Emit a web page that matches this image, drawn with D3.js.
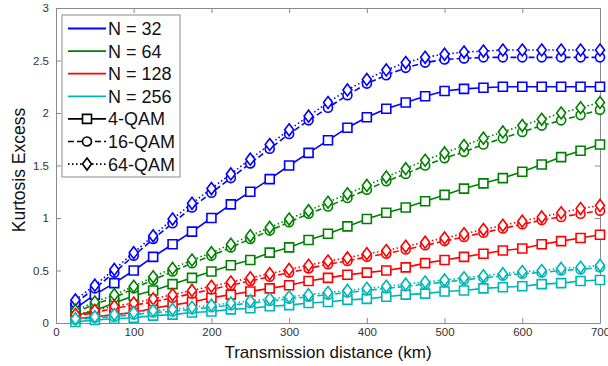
<!DOCTYPE html>
<html>
<head>
<meta charset="utf-8">
<script src="https://cdn.jsdelivr.net/npm/d3@7/dist/d3.min.js"></script>
<style>
  body { margin: 0; background: #fff; }
  svg { display: block; font-family: "Liberation Sans", Arial, sans-serif; }
</style>
</head>
<body>
<div id="chart"></div>
<script>
// transmission distance (km)
var distances = [25, 50, 75, 100, 125, 150, 175, 200, 225, 250, 275, 300, 325, 350,
                 375, 400, 425, 450, 475, 500, 525, 550, 575, 600, 625, 650, 675, 700];

var n32qam4  = [0.14,0.27,0.38,0.5,0.63,0.75,0.87,1.0,1.13,1.25,1.37,1.5,1.62,1.74,1.86,1.96,2.04,2.1,2.16,2.21,2.23,2.24,2.25,2.25,2.25,2.25,2.25,2.25];
var n32qam16 = [0.19,0.33,0.48,0.64,0.8,0.95,1.1,1.24,1.38,1.52,1.66,1.8,1.93,2.05,2.17,2.28,2.36,2.43,2.48,2.51,2.52,2.53,2.53,2.53,2.53,2.53,2.53,2.53];
var n32qam64 = [0.22,0.36,0.51,0.67,0.83,0.99,1.14,1.28,1.42,1.56,1.7,1.84,1.97,2.1,2.22,2.32,2.41,2.48,2.53,2.56,2.58,2.59,2.6,2.6,2.6,2.6,2.6,2.6];

var n64qam4  = [0.07,0.12,0.19,0.26,0.31,0.37,0.43,0.49,0.55,0.6,0.67,0.72,0.79,0.85,0.92,0.99,1.05,1.1,1.16,1.22,1.28,1.33,1.38,1.44,1.51,1.58,1.64,1.7];
var n64qam16 = [0.1,0.18,0.24,0.33,0.41,0.49,0.57,0.64,0.72,0.8,0.88,0.96,1.04,1.11,1.19,1.27,1.35,1.42,1.5,1.57,1.63,1.7,1.76,1.82,1.88,1.93,1.98,2.03];
var n64qam64 = [0.12,0.2,0.27,0.35,0.44,0.52,0.6,0.67,0.75,0.83,0.91,0.99,1.07,1.15,1.23,1.31,1.39,1.47,1.55,1.62,1.69,1.76,1.82,1.88,1.94,2.0,2.05,2.1];

var n128qam4  = [0.04,0.06,0.08,0.1,0.14,0.17,0.2,0.24,0.27,0.3,0.33,0.36,0.4,0.43,0.46,0.48,0.5,0.53,0.57,0.6,0.63,0.66,0.69,0.71,0.75,0.78,0.81,0.84];
var n128qam16 = [0.06,0.1,0.14,0.17,0.2,0.24,0.28,0.32,0.36,0.4,0.44,0.48,0.52,0.56,0.59,0.63,0.66,0.7,0.74,0.78,0.82,0.86,0.9,0.94,0.98,1.01,1.04,1.07];
var n128qam64 = [0.08,0.12,0.16,0.19,0.23,0.27,0.31,0.35,0.39,0.43,0.47,0.51,0.55,0.59,0.62,0.66,0.69,0.73,0.77,0.81,0.85,0.89,0.93,0.97,1.01,1.05,1.09,1.12];

var n256qam4  = [0.01,0.03,0.04,0.05,0.07,0.08,0.1,0.11,0.13,0.14,0.16,0.17,0.19,0.2,0.22,0.23,0.25,0.27,0.28,0.3,0.31,0.33,0.34,0.35,0.37,0.38,0.4,0.41];
var n256qam16 = [0.03,0.05,0.06,0.08,0.1,0.11,0.13,0.15,0.17,0.19,0.21,0.23,0.25,0.27,0.29,0.31,0.33,0.35,0.37,0.39,0.41,0.43,0.45,0.47,0.48,0.5,0.51,0.53];
var n256qam64 = [0.04,0.06,0.08,0.1,0.12,0.13,0.15,0.17,0.19,0.21,0.23,0.25,0.27,0.29,0.31,0.33,0.35,0.37,0.39,0.41,0.43,0.45,0.47,0.49,0.5,0.52,0.53,0.55];

var nLabels = ["N = 32", "N = 64", "N = 128", "N = 256"];
var qamLabels = ["4-QAM", "16-QAM", "64-QAM"];
var xTicks = [0, 100, 200, 300, 400, 500, 600, 700];
var yTicks = [0, 0.5, 1, 1.5, 2, 2.5, 3];

var W = 608, H = 366,
    margin = {left: 56, right: 8, top: 8, bottom: 43},
    iw = W - margin.left - margin.right,
    ih = H - margin.top - margin.bottom;

var colors = ["#0000ff", "#008000", "#ff0000", "#00b5b5"];
var dashes = [null, "6,3", "1.5,2.5"];
var shapes = ["square", "circle", "diamond"];

var seriesByN = [
    [n32qam4, n32qam16, n32qam64],
    [n64qam4, n64qam16, n64qam64],
    [n128qam4, n128qam16, n128qam64],
    [n256qam4, n256qam16, n256qam64]
];

var svg = d3.select("#chart").append("svg")
    .attr("width", W)
    .attr("height", H);

var x = d3.scaleLinear().domain([0, 700]).range([0, iw]);
var y = d3.scaleLinear().domain([0, 3]).range([ih, 0]);

var g = svg.append("g").attr("transform", "translate(" + margin.left + "," + margin.top + ")");

// axes, ticks pointing inwards like matlab
var tickFmt = function (d) { return d; };
g.append("g").attr("class", "ax")
    .attr("transform", "translate(0," + ih + ")")
    .call(d3.axisBottom(x).tickValues(xTicks).tickFormat(tickFmt).tickSizeInner(-5).tickSizeOuter(0).tickPadding(5));
g.append("g").attr("class", "ax")
    .call(d3.axisLeft(y).tickValues(yTicks).tickFormat(tickFmt).tickSizeInner(-5).tickSizeOuter(0).tickPadding(7));
g.append("g").attr("class", "ax")
    .call(d3.axisTop(x).tickValues(xTicks).tickFormat("").tickSizeInner(-5).tickSizeOuter(0));
g.append("g").attr("class", "ax")
    .attr("transform", "translate(" + iw + ",0)")
    .call(d3.axisRight(y).tickValues(yTicks).tickFormat("").tickSizeInner(-5).tickSizeOuter(0));

g.selectAll(".ax path, .ax line").attr("stroke", "#8a8a8a").attr("stroke-width", 1);
g.selectAll(".ax text").attr("fill", "#333").attr("font-size", 11.5);

var symbolPath = function (shape, cx, cy) {
    if (shape === "square") {
        return "M" + (cx - 4.5) + "," + (cy - 4.5) + "h9v9h-9Z";
    } else if (shape === "circle") {
        return "M" + (cx - 4.5) + "," + cy + "a4.5,4.5 0 1,0 9,0a4.5,4.5 0 1,0 -9,0Z";
    } else {
        return "M" + cx + "," + (cy - 6) + "L" + (cx + 4.5) + "," + cy + "L" + cx + "," + (cy + 6) + "L" + (cx - 4.5) + "," + cy + "Z";
    }
};

var line = d3.line()
    .x(function (d, i) { return x(distances[i]); })
    .y(function (d) { return y(d); });

seriesByN.forEach(function (group, ni) {
    group.forEach(function (vals, qi) {
        var s = g.append("g");
        s.append("path")
            .attr("d", line(vals))
            .attr("fill", "none")
            .attr("stroke", colors[ni])
            .attr("stroke-width", 1.6)
            .attr("stroke-dasharray", dashes[qi]);
        s.selectAll("path.mk")
            .data(vals)
            .enter()
            .append("path")
            .attr("class", "mk")
            .attr("d", function (d, i) { return symbolPath(shapes[qi], x(distances[i]), y(d)); })
            .attr("fill", "#fff")
            .attr("stroke", colors[ni])
            .attr("stroke-width", 1.6);
    });
});

// legend
var lg = svg.append("g").attr("transform", "translate(62,15)");
lg.append("rect")
    .attr("width", 118).attr("height", 162)
    .attr("fill", "#fff").attr("stroke", "#8a8a8a");

var rowY = function (i) { return 13.5 + i * 22.6; };

nLabels.forEach(function (lab, i) {
    lg.append("line")
        .attr("x1", 6).attr("x2", 44)
        .attr("y1", rowY(i)).attr("y2", rowY(i))
        .attr("stroke", colors[i]).attr("stroke-width", 1.8);
    lg.append("text")
        .attr("x", 46).attr("y", rowY(i) + 6.5)
        .attr("font-size", 18).attr("fill", "#111")
        .text(lab);
});

qamLabels.forEach(function (lab, j) {
    var yy = rowY(j + 4);
    lg.append("line")
        .attr("x1", 6).attr("x2", 44)
        .attr("y1", yy).attr("y2", yy)
        .attr("stroke", "#000").attr("stroke-width", 1.6)
        .attr("stroke-dasharray", dashes[j]);
    lg.append("path")
        .attr("d", symbolPath(shapes[j], 25, yy))
        .attr("fill", "#fff").attr("stroke", "#000").attr("stroke-width", 1.6);
    lg.append("text")
        .attr("x", 46).attr("y", yy + 6.5)
        .attr("font-size", 18).attr("fill", "#111")
        .text(lab);
});

// axis titles
svg.append("text")
    .attr("x", margin.left + iw / 2).attr("y", 358)
    .attr("text-anchor", "middle")
    .attr("font-size", 17).attr("fill", "#111")
    .text("Transmission distance (km)");

svg.append("text")
    .attr("transform", "translate(25,170) rotate(-90)")
    .attr("text-anchor", "middle")
    .attr("font-size", 17.5).attr("fill", "#111")
    .text("Kurtosis Excess");
</script>
</body>
</html>
